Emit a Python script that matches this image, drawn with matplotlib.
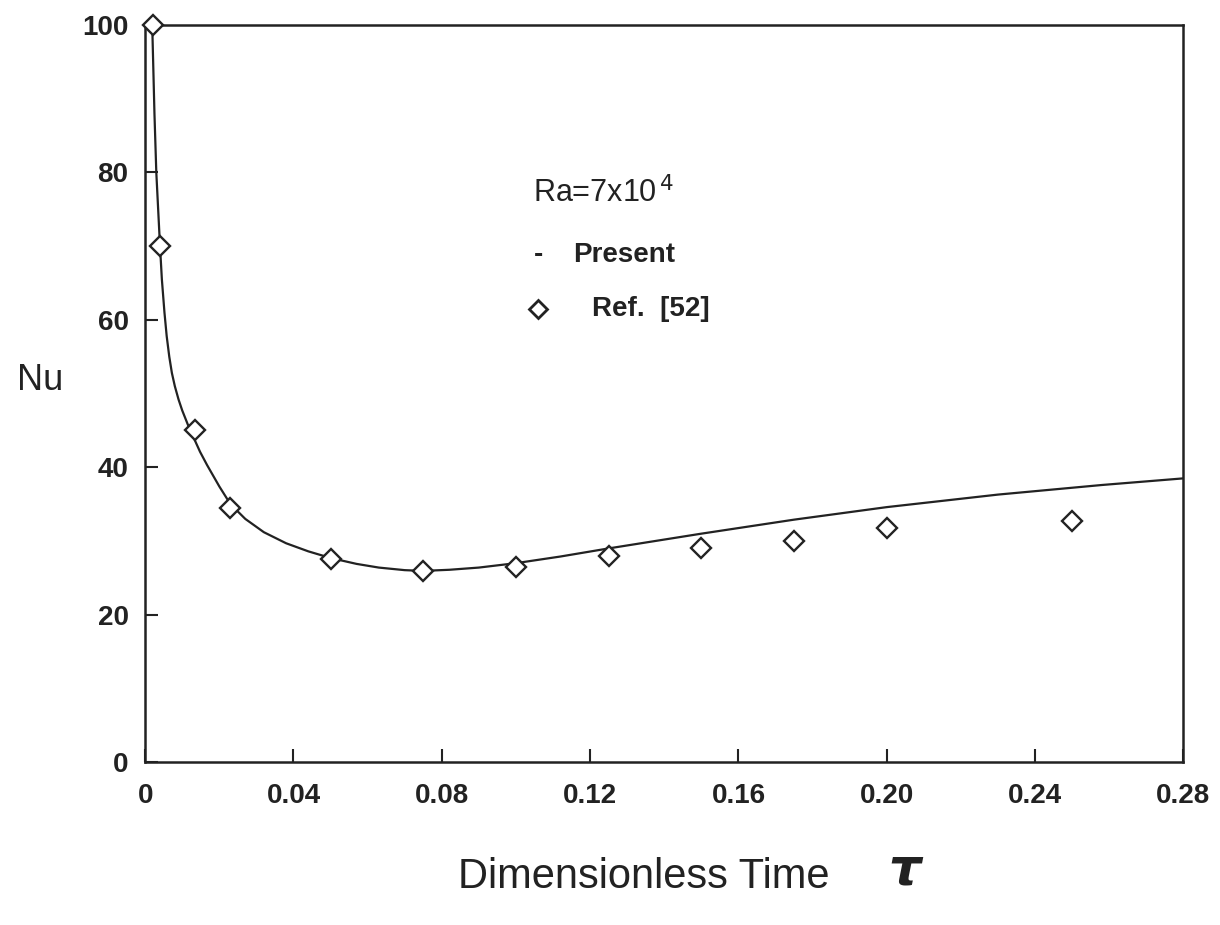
import matplotlib
matplotlib.use("Agg")
import matplotlib.pyplot as plt

# ── Data ─────────────────────────────────────────────────────────────────────
# Present (solid curve)
tau_present = [0.0019, 0.0025, 0.003, 0.0035, 0.004, 0.0045, 0.0052, 0.0058,
               0.0065, 0.0072, 0.008, 0.009, 0.010, 0.0115, 0.013, 0.0148,
               0.0167, 0.020, 0.023, 0.027, 0.032, 0.038, 0.044, 0.050,
               0.057, 0.063, 0.070, 0.075, 0.082, 0.090, 0.100, 0.112,
               0.125, 0.150, 0.175, 0.200, 0.230, 0.258, 0.280]
nu_present = [100.0, 88.0, 80.0, 75.0, 70.0, 65.5, 61.0, 57.8,
              55.0, 52.8, 51.0, 49.2, 47.7, 45.8, 44.1, 42.1,
              40.3, 37.4, 35.0, 33.0, 31.2, 29.7, 28.6, 27.7,
              26.9, 26.4, 26.05, 25.95, 26.1, 26.4, 27.0, 27.9,
              29.0, 31.0, 32.9, 34.6, 36.3, 37.6, 38.5]

# Ref. [52] (diamonds)
tau_ref = [0.002, 0.004, 0.0135, 0.023, 0.050, 0.075, 0.100, 0.125,
           0.150, 0.175, 0.200, 0.250]
nu_ref = [100.0, 70.0, 45.0, 34.5, 27.5, 26.0, 26.5, 28.0,
          29.0, 30.0, 31.8, 32.7]

x_ticks = [0, 0.04, 0.08, 0.12, 0.16, 0.20, 0.24, 0.28]
x_ticklabels = ["0", "0.04", "0.08", "0.12", "0.16", "0.20", "0.24", "0.28"]
y_ticks = [0, 20, 40, 60, 80, 100]

INK = "#222222"
plt.rcParams["font.family"] = ["Liberation Sans", "DejaVu Sans"]

fig = plt.figure(figsize=(12.2, 9.25), dpi=100)
ax = fig.add_axes([0.119, 0.176, 0.851, 0.797])

ax.plot(tau_present, nu_present, color=INK, linewidth=1.6, zorder=2,
        solid_joinstyle="round")
ax.plot(tau_ref, nu_ref, linestyle="none", marker="D", markersize=10.5,
        markerfacecolor="white", markeredgecolor=INK, markeredgewidth=1.7,
        zorder=3, clip_on=False)

ax.set_xlim(0, 0.28)
ax.set_ylim(0, 100)
ax.set_xticks(x_ticks)
ax.set_xticklabels(x_ticklabels)
ax.set_yticks(y_ticks)
ax.tick_params(direction="in", length=9.5, width=1.5, color=INK,
               labelsize=20, top=False, right=False)
ax.tick_params(axis="x", pad=15)
ax.tick_params(axis="y", pad=12)
for lab in ax.get_xticklabels() + ax.get_yticklabels():
    lab.set_fontweight("bold")
    lab.set_color(INK)
for sp in ax.spines.values():
    sp.set_linewidth(1.8)
    sp.set_color(INK)

# axis labels
ax.set_ylabel("Nu", rotation=0, fontsize=26, color=INK, ha="center", va="center")
ax.yaxis.set_label_coords(-0.101, 0.518)
fig.text(0.375, 0.052, "Dimensionless Time", fontsize=30, color=INK,
         ha="left", va="center")
fig.text(0.743, 0.058, r"$\boldsymbol{\tau}$", fontsize=37, color=INK,
         ha="center", va="center")

# in-plot legend
ax.text(0.1047, 77.2, r"Ra=7x10$^{\,4}$", fontsize=22, color=INK,
        ha="left", va="center")
ax.text(0.106, 68.8, "-", fontsize=20, fontweight="bold", color=INK,
        ha="center", va="center")
ax.text(0.1155, 68.8, "Present", fontsize=20, fontweight="bold", color=INK,
        ha="left", va="center")
ax.plot([0.106], [61.5], linestyle="none", marker="D", markersize=9,
        markerfacecolor="white", markeredgecolor=INK, markeredgewidth=2)
ax.text(0.1206, 61.5, "Ref.  [52]", fontsize=20, fontweight="bold", color=INK,
        ha="left", va="center")

fig.savefig("out.png", dpi=100, facecolor="white")
